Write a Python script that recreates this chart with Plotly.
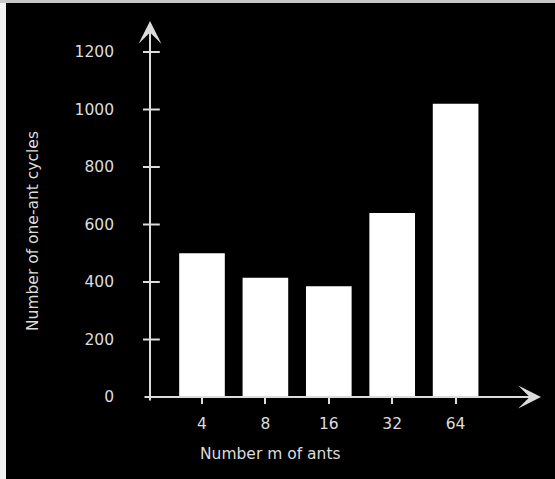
import plotly.graph_objects as go

# ---- data ----
categories = ["4", "8", "16", "32", "64"]
cycles = [500, 415, 385, 640, 1020]
y_ticks = [0, 200, 400, 600, 800, 1000, 1200]
y_tick_labels = ["0", "200", "400", "600", "800", "1000", "1200"]
x_title = "Number m of ants"
y_title = "Number of one-ant cycles"

W, H = 555, 479
L, R, T, B = 143, 14, 20, 74          # margins (px)
PW, PH = W - L - R, H - T - B
FG = "#dcdcdc"
FONT = "DejaVu Sans"
FS = 15.5

# axis geometry (data units)
x_range = [-0.9306, 5.347]
y_range = [-27.8, 1311.3]
y_axis_x = -0.82
y_tip, y_tail = 1307.8, -17.4


def px_x(p):
    return (p - L) / PW


def px_y(p):
    return (H - B - p) / PH


xs = list(range(len(categories)))

fig = go.Figure()
fig.add_trace(go.Bar(x=xs, y=cycles, width=0.72,
                     marker=dict(color="#ffffff", line=dict(width=0)),
                     hoverinfo="skip", showlegend=False))
# y-axis tick marks (crossing the axis)
fig.add_trace(go.Scatter(x=[y_axis_x] * (len(y_ticks) - 1), y=y_ticks[1:],
                         mode="markers", hoverinfo="skip", showlegend=False,
                         marker=dict(symbol="line-ew", size=14,
                                     line=dict(width=2, color=FG))))

fig.update_layout(
    width=W, height=H,
    margin=dict(l=L, r=R, t=T, b=B, pad=0),
    paper_bgcolor="#000000", plot_bgcolor="#000000",
    font=dict(family=FONT, size=FS, color=FG),
    xaxis=dict(range=x_range, tickvals=xs, ticktext=categories,
               showgrid=False, zeroline=False, showline=False,
               ticks="outside", ticklen=6, tickwidth=2, tickcolor=FG,
               anchor="free", position=px_y(397), ticklabelstandoff=6,
               tickfont=dict(size=FS, color=FG, family=FONT)),
    yaxis=dict(range=y_range, tickvals=y_ticks, ticktext=y_tick_labels,
               showgrid=False, zeroline=False, showline=False,
               ticks="", ticklabelstandoff=28,
               tickfont=dict(size=FS, color=FG, family=FONT)),
)

# axis lines with arrowheads
fig.add_annotation(x=y_axis_x, y=y_tip, ax=y_axis_x, ay=y_tail,
                   xref="x", yref="y", axref="x", ayref="y", text="",
                   showarrow=True, arrowhead=3, arrowsize=1.9, arrowwidth=2,
                   arrowcolor=FG, standoff=0)
fig.add_annotation(x=x_range[1], y=0, ax=x_range[0], ay=0,
                   xref="x", yref="y", axref="x", ayref="y", text="",
                   showarrow=True, arrowhead=3, arrowsize=1.9, arrowwidth=2,
                   arrowcolor=FG, standoff=0)

# axis titles
fig.add_annotation(x=px_x(270), y=px_y(454), xref="paper", yref="paper",
                   xanchor="center", yanchor="middle",
                   text=x_title, showarrow=False,
                   font=dict(size=FS, color=FG, family=FONT))
fig.add_annotation(x=px_x(33), y=px_y(231), xref="paper", yref="paper",
                   xanchor="center", yanchor="middle",
                   text=y_title, showarrow=False, textangle=-90,
                   font=dict(size=FS, color=FG, family=FONT))

# thin light border strips on the left and top edges
fig.add_shape(type="rect", xref="paper", yref="paper",
              x0=px_x(0), x1=px_x(6), y0=px_y(H), y1=px_y(0),
              fillcolor="#f2f2f2", line=dict(width=0), layer="above")
fig.add_shape(type="rect", xref="paper", yref="paper",
              x0=px_x(0), x1=px_x(W), y0=px_y(3), y1=px_y(0),
              fillcolor="#c8c8c8", line=dict(width=0), layer="above")

fig.write_html("out.html", config={"displayModeBar": False},
               post_script="document.body.style.margin='0';"
                           "document.body.style.background='#000';")
